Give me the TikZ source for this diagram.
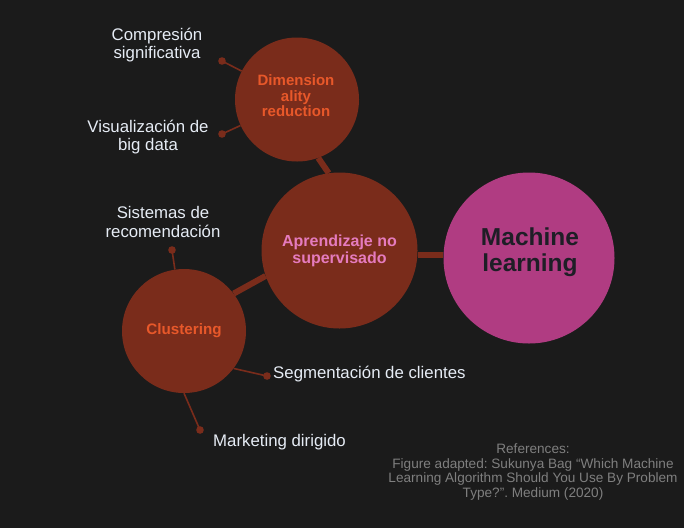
\documentclass[tikz,border=0pt]{standalone}
\usepackage{fontspec}
\setmainfont{Liberation Sans}
\frenchspacing
\pgfdeclarelayer{back}
\pgfdeclarelayer{links}
\pgfsetlayers{back,links,main}
\definecolor{canvas}{HTML}{1B1B1B}
\definecolor{rust}{HTML}{7A2C1B}
\definecolor{orchid}{HTML}{B03C82}
\definecolor{flame}{HTML}{E8582A}
\definecolor{rosy}{HTML}{E57BBE}
\definecolor{ink}{HTML}{1E1E26}
\definecolor{paper}{HTML}{E6ECF5}
\definecolor{muted}{HTML}{7F7F7F}
\begin{document}
\begin{tikzpicture}[x=1pt,y=-1pt,
  topic/.style={circle, draw=none, inner sep=0pt, align=center},
  caption/.style={align=center, inner sep=0pt},
  trunk/.style={draw=rust, line width=6pt},
  twig/.style={draw=rust, line width=1.6pt},
  tip/.style={fill=rust},
  leaf/.style={text=paper, align=center, inner sep=0pt,
    font=\fontsize{16.8}{18.5}\selectfont},
  cite/.style={text=muted, align=center, inner sep=0pt,
    font=\fontsize{13.6}{14.8}\selectfont}]

\begin{pgfonlayer}{back}
  \fill[canvas] (0,0) rectangle (684,528);
\end{pgfonlayer}
\useasboundingbox (0,0) rectangle (684,528);

% main topics
\node[topic, minimum size=171pt, fill=orchid] (ml) at (529,258) {};
\node[caption, text=ink, font=\bfseries\fontsize{24.5}{25.5}\selectfont]
  (mltext) at (530,252) {Machine\\learning};
\node[topic, minimum size=156pt, fill=rust, text=rosy,
  font=\bfseries\fontsize{16}{17}\selectfont] (apr) at (339.5,250.5) {Aprendizaje no\\supervisado};
\node[topic, minimum size=124pt, fill=rust] (dim) at (297,99.5) {};
\node[caption, text=flame, font=\bfseries\fontsize{15}{15.5}\selectfont]
  (dimtext) at (296,96) {Dimension\\ality\\reduction};
\node[topic, minimum size=124pt, fill=rust, text=flame,
  font=\bfseries\fontsize{15.2}{16}\selectfont] (clu) at (184,331) {Clustering};

% leaf labels
\node[leaf] (comp) at (157,45) {Compresión\\significativa};
\node[leaf] (vis) at (148,137) {Visualización de\\big data};
\node[leaf] (sis) at (163,222) {Sistemas de\\recomendación};
\node[leaf, anchor=west] (seg) at (273,374) {Segmentación de clientes};
\node[leaf, anchor=west] (mkt) at (213,442) {Marketing dirigido};

% references
\node[cite] (refs) at (533,472) {References:\\Figure adapted: Sukunya Bag “Which Machine\\Learning Algorithm Should You Use By Problem\\Type?”. Medium (2020)};

% leaf end points
\coordinate (pcomp) at (222,61);
\coordinate (pvis) at (222,134);
\coordinate (psis) at (172,250);
\coordinate (pseg) at (267,376);
\coordinate (pmkt) at (200,430);

\begin{pgfonlayer}{links}
  \draw[trunk] (apr.-3.5) -- (apr.-3.5 -| ml.west);
  \draw[trunk] (dim.-70.8) -- (apr.98.6);
  \draw[trunk] (clu.37.6) -- (apr.199);
  \draw[twig] (dim) -- (pcomp);
  \draw[twig] (dim) -- (pvis);
  \draw[twig] (clu) -- (psis);
  \draw[twig] (clu.-37.8) -- (pseg);
  \draw[twig] (clu.-90) -- (pmkt);
\end{pgfonlayer}
\foreach \p in {pcomp,pvis,psis,pseg,pmkt}
  \fill[tip] (\p) circle (3.8);

\end{tikzpicture}
\end{document}
